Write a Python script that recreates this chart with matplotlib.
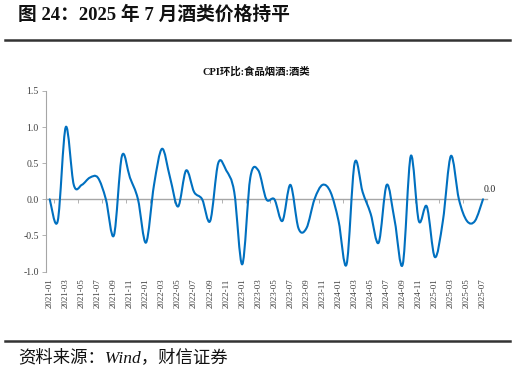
import matplotlib
matplotlib.use('Agg')
import matplotlib.pyplot as plt
from matplotlib.path import Path
from matplotlib.patches import PathPatch
from matplotlib.lines import Line2D

# CPI环比:食品烟酒:酒类, 2021-01 .. 2025-07
months = [f'{y}-{m:02d}' for y in range(2021, 2026) for m in range(1, 13)][:55]
values = [0.0, -0.3, 1.0, 0.2, 0.2, 0.3, 0.3, 0.0, -0.5, 0.6, 0.3, 0.0,
          -0.6, 0.2, 0.7, 0.3, -0.1, 0.4, 0.1, 0.0, -0.3, 0.5, 0.4, 0.1,
          -0.9, 0.3, 0.4, 0.0, 0.0, -0.3, 0.2, -0.4, -0.4, 0.0, 0.2, 0.1,
          -0.3, -0.9, 0.5, 0.1, -0.2, -0.6, 0.2, -0.3, -0.9, 0.6, -0.3, -0.1,
          -0.8, -0.3, 0.6, 0.0, -0.3, -0.3, 0.0]
yticks = [-1.0, -0.5, 0.0, 0.5, 1.0, 1.5]

serif = ['Liberation Serif', 'Noto Sans CJK SC']
blue = '#0070C0'
grey = '#A6A6A6'

fig = plt.figure(figsize=(5.15, 3.73), dpi=100)
W, H = 515, 373
ax = fig.add_axes([45.7 / W, 1 - 271.5 / H, (487 - 45.7) / W, (271.5 - 91) / H])

# smoothed line like excel (bezier through the points)
xs = list(range(len(values)))
verts = [(xs[0], values[0])]
codes = [Path.MOVETO]
n = len(values)
for i in range(n - 1):
    p0 = (xs[max(i - 1, 0)], values[max(i - 1, 0)])
    p1 = (xs[i], values[i])
    p2 = (xs[i + 1], values[i + 1])
    p3 = (xs[min(i + 2, n - 1)], values[min(i + 2, n - 1)])
    c1 = (p1[0] + (p2[0] - p0[0]) / 6, p1[1] + (p2[1] - p0[1]) / 6)
    c2 = (p2[0] - (p3[0] - p1[0]) / 6, p2[1] - (p3[1] - p1[1]) / 6)
    verts += [c1, c2, p2]
    codes += [Path.CURVE4] * 3
ax.add_patch(PathPatch(Path(verts, codes), facecolor='none', edgecolor=blue,
                       lw=1.5, zorder=3, capstyle='round', joinstyle='round'))

ax.set_xlim(-0.5, len(values) - 0.5)
ax.set_ylim(-1.0, 1.5)

for s in ['top', 'right']:
    ax.spines[s].set_visible(False)
ax.spines['left'].set_color(grey)
ax.spines['left'].set_linewidth(0.8)
ax.spines['bottom'].set_position(('data', 0))
ax.spines['bottom'].set_color(grey)
ax.spines['bottom'].set_linewidth(1.0)

ax.set_yticks(yticks)
ax.set_yticklabels([f'{v:.1f}' for v in yticks], family=serif, fontsize=7, color='#404040')
ax.tick_params(axis='y', length=3, width=0.6, color=grey, pad=2)

ax.set_xticks(xs[::2])
ax.set_xticklabels(months[::2], rotation=90, family=serif, fontsize=6.5,
                   color='#404040', va='top')
ax.tick_params(axis='x', which='major', length=0, pad=57)
ax.set_xticks([k - 0.5 for k in range(1, len(values), 3)], minor=True)
ax.tick_params(axis='x', which='minor', length=3, width=0.6, color=grey, direction='out')

ax.annotate(f'{values[-1]:.1f}', xy=(xs[-1], values[-1]), xytext=(5, 7),
            textcoords='offset points', ha='center', va='center',
            family=serif, fontsize=7, color='#222222')

fig.text(256 / W, 1 - 71.7 / H, 'CPI环比:食品烟酒:酒类', ha='center', va='center',
         family=serif, fontsize=7.5, fontweight='bold', color='#111111')

fig.text(18 / W, 1 - 15 / H, '图 24：2025 年 7 月酒类价格持平', ha='left', va='center',
         family=serif, fontsize=13.5, fontweight='bold', color='#111111')
fig.add_artist(Line2D([5 / W, 510 / W], [1 - 40 / H] * 2, lw=1.8, color='#333333'))
fig.add_artist(Line2D([5 / W, 510 / W], [1 - 341 / H] * 2, lw=1.8, color='#333333'))
fig.text(18 / W, 1 - 357.5 / H, '资料来源：Wind，财信证券', ha='left', va='center',
         family=serif, fontsize=12.5, style='italic', color='#111111')

fig.savefig('out.png', dpi=100)
